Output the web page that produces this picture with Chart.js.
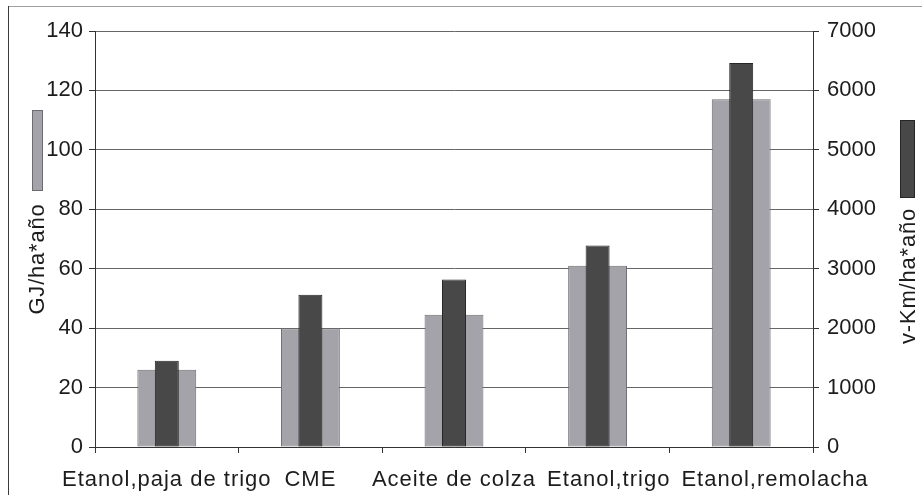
<!DOCTYPE html>
<html>
<head>
<meta charset="utf-8">
<title>Biocombustibles: energía y recorrido por hectárea</title>
<script src="https://cdn.jsdelivr.net/npm/chart.js@4"></script>
<style>
  html, body { margin: 0; padding: 0; background: #fff; }
  canvas { display: block; }
</style>
</head>
<body>
<canvas id="chart" width="922" height="495"></canvas>
<script>
// Categories along the bottom axis
const categories = ['Etanol,paja de trigo', 'CME', 'Aceite de colza', 'Etanol,trigo', 'Etanol,remolacha'];
// Energy yield per hectare and year (left axis)
const energyGJ = [26, 40, 44.5, 61, 117];
// Vehicle kilometres per hectare and year (right axis)
const vehicleKm = [1450, 2560, 2820, 3390, 6460];
// Axis ranges and tick steps
const leftAxisRange = [0, 140];
const leftAxisStep = 20;
const rightAxisRange = [0, 7000];
const rightAxisStep = 1000;
// Axis titles
const leftTitle = 'GJ/ha*año';
const rightTitle = 'v-Km/ha*año';

const FONT = "'Liberation Sans', Arial, sans-serif";
const LIGHT = '#a3a3a9', LIGHT_EDGE = '#6c6c70';
const DARK = '#484848', DARK_EDGE = '#262626';
const AXIS = '#333333', GRID = '#666666', TEXT = '#1c1c1c';
const LABEL_SPACING = '1px';
const LABEL_GAP = 11;

const hasSpacing = 'letterSpacing' in CanvasRenderingContext2D.prototype;

// Outer frame, rotated axis titles with their colour keys, and category label layout
const framePlugin = {
  id: 'frameAndTitles',
  beforeDraw(chart) {
    const ctx = chart.ctx;
    ctx.save();
    ctx.fillStyle = '#fff';
    ctx.fillRect(0, 0, chart.width, chart.height);
    ctx.lineWidth = 1;
    ctx.strokeStyle = '#a0a0a0';
    ctx.beginPath(); ctx.moveTo(8, 6.5); ctx.lineTo(chart.width, 6.5); ctx.stroke();
    ctx.strokeStyle = '#3a3a3a';
    ctx.beginPath(); ctx.moveTo(8.5, 6); ctx.lineTo(8.5, chart.height); ctx.stroke();

    // push crowded category labels to the right so they never overlap
    const xs = chart.scales.x;
    const items = xs.getLabelItems ? xs.getLabelItems(chart.chartArea) : null;
    if (items && items.length) {
      if (hasSpacing) ctx.letterSpacing = LABEL_SPACING;
      let prevRight = -Infinity;
      items.forEach(it => {
        const tr = it.options && it.options.translation;
        if (!tr) return;
        ctx.font = it.font.string;
        const w = ctx.measureText(String(it.label)).width;
        let left = tr[0] - w / 2;
        if (left < prevRight + LABEL_GAP) {
          const shift = prevRight + LABEL_GAP - left;
          tr[0] += shift;
          left += shift;
        }
        prevRight = left + w;
      });
      if (hasSpacing) ctx.letterSpacing = '0px';
    }
    ctx.restore();
  },
  afterDatasetsDraw(chart) {
    // bottom category labels are drawn after this hook (ticks.z = 1)
    if (hasSpacing) chart.ctx.letterSpacing = LABEL_SPACING;
  },
  afterDraw(chart) {
    const ctx = chart.ctx;
    if (hasSpacing) ctx.letterSpacing = '0px';
    const ds = chart.data.datasets;
    const drawKeyedTitle = (text, baseX, midY, key, fill, edge) => {
      ctx.save();
      ctx.fillStyle = fill;
      ctx.fillRect(key[0], key[1], key[2], key[3]);
      ctx.strokeStyle = edge;
      ctx.lineWidth = 1;
      ctx.strokeRect(key[0] + 0.5, key[1] + 0.5, key[2] - 1, key[3] - 1);
      ctx.translate(baseX, midY);
      ctx.rotate(-Math.PI / 2);
      if (hasSpacing) ctx.letterSpacing = '0.8px';
      ctx.font = '22px ' + FONT;
      ctx.fillStyle = TEXT;
      ctx.textAlign = 'center';
      ctx.textBaseline = 'alphabetic';
      ctx.fillText(text, 0, 0);
      ctx.restore();
    };
    const yl = chart.scales.y, yr = chart.scales.y1;
    drawKeyedTitle(leftTitle, yl.left + 43.5, 259, [yl.left + 32, 110, 11, 81],
      ds[0].backgroundColor, ds[0].borderColor);
    drawKeyedTitle(rightTitle, yr.right - 7, 276, [yr.right - 22, 120, 15, 78],
      ds[1].backgroundColor, ds[1].borderColor);
  }
};

new Chart(document.getElementById('chart'), {
  type: 'bar',
  data: {
    labels: categories,
    datasets: [
      {
        label: leftTitle,
        data: energyGJ,
        yAxisID: 'y',
        backgroundColor: LIGHT,
        borderColor: LIGHT_EDGE,
        borderWidth: 1,
        borderSkipped: false,
        grouped: false,
        categoryPercentage: 1,
        barPercentage: 0.41,
        order: 2
      },
      {
        label: rightTitle,
        data: vehicleKm,
        yAxisID: 'y1',
        backgroundColor: DARK,
        borderColor: DARK_EDGE,
        borderWidth: 1,
        borderSkipped: false,
        grouped: false,
        categoryPercentage: 1,
        barPercentage: 0.167,
        order: 1
      }
    ]
  },
  options: {
    responsive: false,
    animation: false,
    devicePixelRatio: 1,
    layout: { padding: { top: 31, left: 0, right: 0, bottom: 0 } },
    plugins: { legend: { display: false }, tooltip: { enabled: false } },
    scales: {
      x: {
        offset: true,
        afterFit(s) { s.height = 48; },
        grid: { display: true, drawOnChartArea: false, drawTicks: true, tickLength: 6, color: AXIS, offset: true },
        border: { display: true, color: AXIS, width: 1, z: 1 },
        ticks: {
          autoSkip: false, maxRotation: 0, minRotation: 0, padding: 14, z: 1,
          color: TEXT, font: { family: FONT, size: 22 }
        }
      },
      y: {
        position: 'left',
        min: leftAxisRange[0], max: leftAxisRange[1],
        afterFit(s) { s.width = 95; },
        grid: { color: GRID, lineWidth: 1, drawTicks: true, tickLength: 6, tickColor: AXIS },
        border: { display: true, color: AXIS, width: 1 },
        ticks: { stepSize: leftAxisStep, padding: 6, color: TEXT, font: { family: FONT, size: 22 },
          callback: v => String(v) }
      },
      y1: {
        position: 'right',
        min: rightAxisRange[0], max: rightAxisRange[1],
        afterFit(s) { s.width = 109; },
        grid: { drawOnChartArea: false, drawTicks: true, tickLength: 6, tickColor: AXIS },
        border: { display: true, color: AXIS, width: 1 },
        ticks: { stepSize: rightAxisStep, padding: 8, color: TEXT, font: { family: FONT, size: 22 },
          callback: v => String(v) }
      }
    }
  },
  plugins: [framePlugin]
});
</script>
</body>
</html>
